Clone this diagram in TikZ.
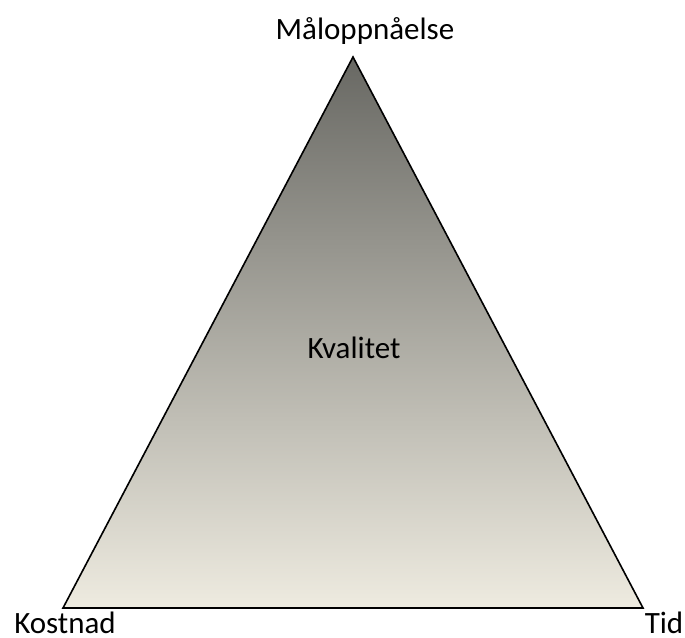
\documentclass[tikz,border=0pt]{standalone}
\usepackage{fontspec}
\setmainfont{Carlito}
\usetikzlibrary{positioning}
\definecolor{apexgrey}{RGB}{104,104,99}
\definecolor{basebeige}{RGB}{238,235,224}

\begin{document}
\begin{tikzpicture}[x=1pt, y=-1pt,
  lbl/.style={font=\fontsize{31}{37}\selectfont, anchor=base, inner sep=0pt},
  pyramid/.style={draw=black, line width=1.6pt, line join=miter, top color=apexgrey, bottom color=basebeige}]
\useasboundingbox (0,0) rectangle (685,637);

\coordinate (top) at (353,57);
\coordinate (left) at (63,608);
\coordinate (right) at (643,608);

\draw[pyramid] (top) -- (right) -- (left) -- cycle;

\node[lbl] (goal) at (365,39) {Måloppnåelse};
\node[lbl] (quality) at (354,358) {Kvalitet};
\node[lbl] (cost) at (65,633) {Kostnad};
\node[lbl] (time) at (664,633) {Tid};
\end{tikzpicture}
\end{document}
